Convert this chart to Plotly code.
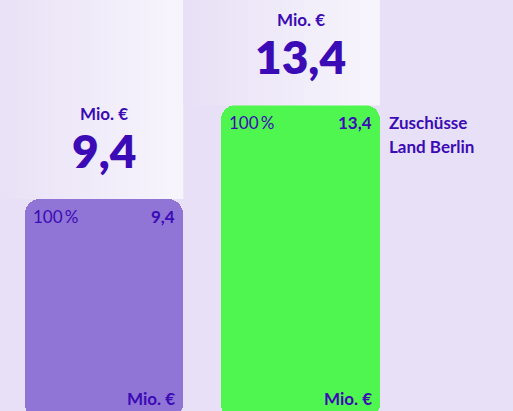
import plotly.graph_objects as go

# ---- data ----
categories = ["Jahr A", "Jahr B"]
values = [9.4, 13.4]
value_labels = ["9,4", "13,4"]
share_labels = ["100\u2009%", "100\u2009%"]
unit_label = "Mio. €"
bar_colors = ["#9074d6", "#50f650"]
series_label = ["Zuschüsse", "Land Berlin"]

# ---- style ----
BG = "#e8e0f6"
LIGHT = "#f7f5fc"
TXT = "#3b0bb5"
FONT = "Lato"
W, H = 513, 411
x_pos = [0, 1]
bar_w = 0.807
y_top = 17.906
y_bottom = 0.342

fig = go.Figure()

# column backdrops with horizontal gradient (from bar top up to the top)
for xp, v in zip(x_pos, values):
    x1 = xp + bar_w / 2
    x0 = x1 - 1.0
    fig.add_trace(go.Scatter(
        x=[x0, x1, x1, x0, x0], y=[v, v, y_top, y_top, v],
        mode="lines", line=dict(width=0), fill="toself",
        fillgradient=dict(type="horizontal",
                          colorscale=[[0, BG], [1, LIGHT]]),
        hoverinfo="skip", showlegend=False))

# bars: one rounded at the top, one drawn downward (rounded at the bottom)
fig.add_trace(go.Bar(x=x_pos, y=values, base=[0] * len(values), width=bar_w,
                     marker=dict(color=bar_colors, cornerradius=15, line=dict(width=0)),
                     hoverinfo="skip", showlegend=False))
fig.add_trace(go.Bar(x=x_pos, y=[-v for v in values], base=values, width=bar_w,
                     marker=dict(color=bar_colors, cornerradius=15, line=dict(width=0)),
                     hoverinfo="skip", showlegend=False))

ann = []
for xp, v, vl, sl in zip(x_pos, values, value_labels, share_labels):
    left = xp - bar_w / 2
    right = xp + bar_w / 2
    # headline above the bar
    ann.append(dict(x=xp, y=v, text=unit_label, showarrow=False,
                    xanchor="center", yanchor="middle", yshift=86,
                    font=dict(family=FONT, size=17, color=TXT, weight="bold")))
    ann.append(dict(x=xp, y=v, text=vl, showarrow=False,
                    xanchor="center", yanchor="middle", yshift=49,
                    font=dict(family=FONT, size=46, color=TXT, weight=800)))
    # inside bar
    ann.append(dict(x=left, y=v, text=sl, showarrow=False,
                    xanchor="left", yanchor="middle", xshift=6, yshift=-17,
                    font=dict(family=FONT, size=17, color=TXT)))
    ann.append(dict(x=right, y=v, text=vl, showarrow=False,
                    xanchor="right", yanchor="middle", xshift=-6, yshift=-17,
                    font=dict(family=FONT, size=17, color=TXT, weight="bold")))
    ann.append(dict(x=right, xref="x", y=0, yref="paper", text=unit_label,
                    showarrow=False, xanchor="right", yanchor="bottom",
                    xshift=-6, yshift=0,
                    font=dict(family=FONT, size=17, color=TXT, weight="bold")))

# series label right of the second bar
for i, line in enumerate(series_label):
    ann.append(dict(x=x_pos[1] + bar_w / 2, y=values[1], text=line, showarrow=False,
                    xanchor="left", yanchor="middle", xshift=7, yshift=-17 - 24 * i,
                    font=dict(family=FONT, size=17, color=TXT, weight="bold")))

fig.update_layout(
    width=W, height=H,
    margin=dict(l=0, r=0, t=0, b=0),
    paper_bgcolor=BG, plot_bgcolor=BG,
    barmode="overlay", bargap=0,
    annotations=ann,
    xaxis=dict(range=[-0.529, 2.081], visible=False, fixedrange=True),
    yaxis=dict(range=[y_bottom, y_top], visible=False, fixedrange=True),
    showlegend=False,
)

fig.write_html("out.html", config={"displayModeBar": False},
               post_script="document.body.style.margin='0';document.body.style.overflow='hidden';")
